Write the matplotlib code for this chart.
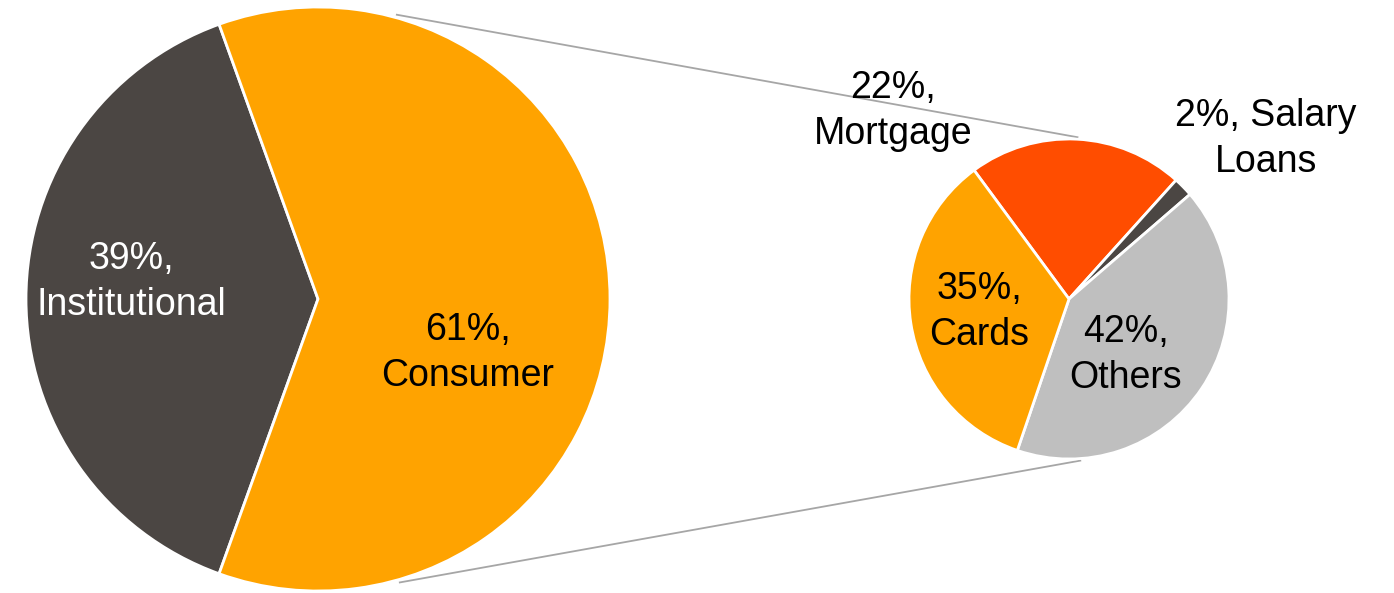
import numpy as np
import matplotlib.pyplot as plt

plt.rcParams['font.family'] = ['Liberation Sans', 'DejaVu Sans']

# big pie: split of the loan book
main_labels = ['Institutional', 'Consumer']
main_values = [39, 61]
main_colors = ['#4b4643', '#ffa300']

# small pie: breakdown of Consumer
sub_labels = ['Mortgage', 'Salary Loans', 'Others', 'Cards']
sub_values = [22, 2, 42, 35]
sub_colors = ['#ff4d00', '#4b4643', '#bfbfbf', '#ffa300']

W, H = 1394, 593

fig = plt.figure(figsize=(W / 100, H / 100), dpi=100)
ax = fig.add_axes([0, 0, 1, 1])

big_c = (318, H - 299)
big_r = 292
small_c = (1069, H - 299)
small_r = 160

wedge_style = dict(edgecolor='white', linewidth=2)

ax.pie(main_values, colors=main_colors, center=big_c, radius=big_r,
       startangle=180 - main_values[0] / 100 * 180, counterclock=True,
       wedgeprops=wedge_style, frame=True)
ax.pie(sub_values, colors=sub_colors, center=small_c, radius=small_r,
       startangle=126.4, counterclock=False,
       wedgeprops=wedge_style, frame=True)

# connector lines between the two pies
for a1, a2 in [(74.5, 87), (-73.9, -86)]:
    x1 = big_c[0] + (big_r + 3) * np.cos(np.radians(a1))
    y1 = big_c[1] + (big_r + 3) * np.sin(np.radians(a1))
    x2 = small_c[0] + (small_r + 2) * np.cos(np.radians(a2))
    y2 = small_c[1] + (small_r + 2) * np.sin(np.radians(a2))
    ax.plot([x1, x2], [y1, y2], color='#a6a6a6', lw=1.3, zorder=0)

fs = 27
txt = dict(ha='center', va='baseline', multialignment='center',
           fontsize=fs, linespacing=1.35)

ax.text(131, H - 315, f'{main_values[0]}%,\n{main_labels[0]}', color='white', **txt)
ax.text(468, H - 386, f'{main_values[1]}%,\n{main_labels[1]}', color='black', **txt)

ax.text(893, H - 144, f'{sub_values[0]}%,\n{sub_labels[0]}', color='black', **txt)
ax.text(1266, H - 172, f'{sub_values[1]}%, Salary\nLoans', color='black', **txt)
ax.text(1126, H - 388, f'{sub_values[2]}%,\n{sub_labels[2]}', color='black', **txt)
ax.text(979, H - 345, f'{sub_values[3]}%,\n{sub_labels[3]}', color='black', **txt)

ax.set_xlim(0, W)
ax.set_ylim(0, H)
ax.set_aspect('equal')
ax.axis('off')

fig.savefig('out.png', dpi=100, facecolor='white')
